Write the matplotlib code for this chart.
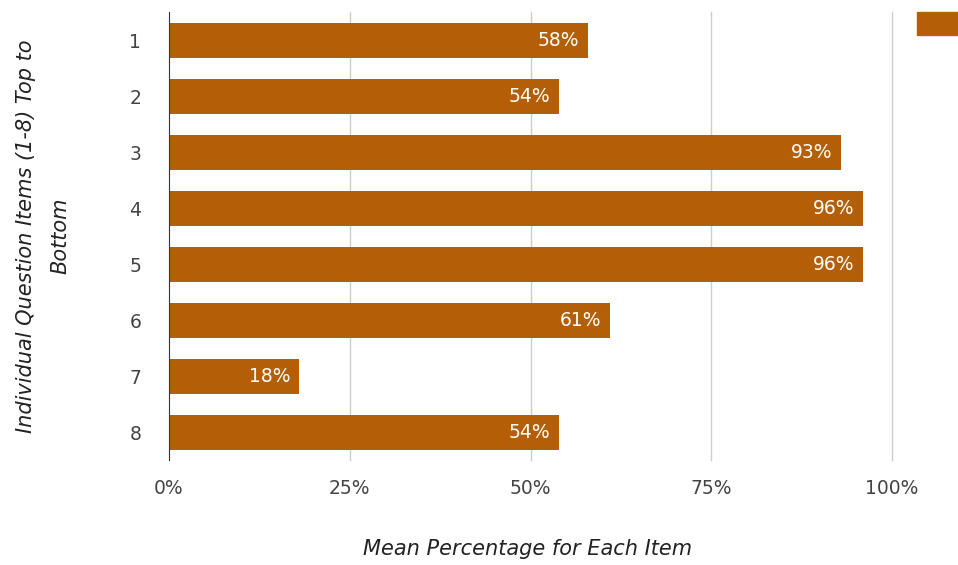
import matplotlib
matplotlib.use("Agg")
import matplotlib.pyplot as plt
from matplotlib.patches import Rectangle

plt.rcParams['font.family'] = ['DejaVu Sans']

items = ["1", "2", "3", "4", "5", "6", "7", "8"]
values = [58, 54, 93, 96, 96, 61, 18, 54]
xticks = [0, 25, 50, 75, 100]
xtick_labels = ["0%", "25%", "50%", "75%", "100%"]
color = "#b45f06"

W, H = 958, 565
fig = plt.figure(figsize=(W/100, H/100), dpi=100)
ax = fig.add_axes([169/W, 1-460/H, (892-169)/W, (460-12)/H])

ypos = list(range(len(items)))
ax.barh(ypos, values, height=0.625, color=color, zorder=3)
ax.set_ylim(len(items)-0.5, -0.5)
ax.set_xlim(0, 100)
ax.set_yticks(ypos)
ax.set_yticklabels(items, fontsize=13.5, color="#444444")
ax.set_xticks(xticks)
ax.set_xticklabels(xtick_labels, fontsize=13.5, color="#444444")
ax.tick_params(axis='both', length=0)
ax.tick_params(axis='y', pad=20)
ax.tick_params(axis='x', pad=14)
for t in xticks[1:]:
    ax.axvline(t, color="#cccccc", linewidth=1, zorder=0, clip_on=False)
for s in ["top", "right", "bottom"]:
    ax.spines[s].set_visible(False)
ax.spines["left"].set_color("#333333")
ax.spines["left"].set_zorder(4)

for y, v in zip(ypos, values):
    ax.annotate(f"{v}%", xy=(v, y), xytext=(-6.5, 0), textcoords="offset points",
                ha="right", va="center", color="white", fontsize=13.5, zorder=5)

fig.text(528/W, 1-549/H, "Mean Percentage for Each Item", fontsize=15,
         style="italic", color="#222222", ha="center", va="center")
fig.text(43/W, 1-236/H, "Individual Question Items (1-8) Top to\nBottom",
         fontsize=15, style="italic", color="#222222", ha="center", va="center",
         rotation=90, multialignment="center", linespacing=1.9)

# legend swatch (cut off at right edge in reference)
fig.patches.append(Rectangle((917/W, 1-35/H), 60/W, 23/H,
                             transform=fig.transFigure, color=color, figure=fig))

fig.savefig("out.png", dpi=100)
